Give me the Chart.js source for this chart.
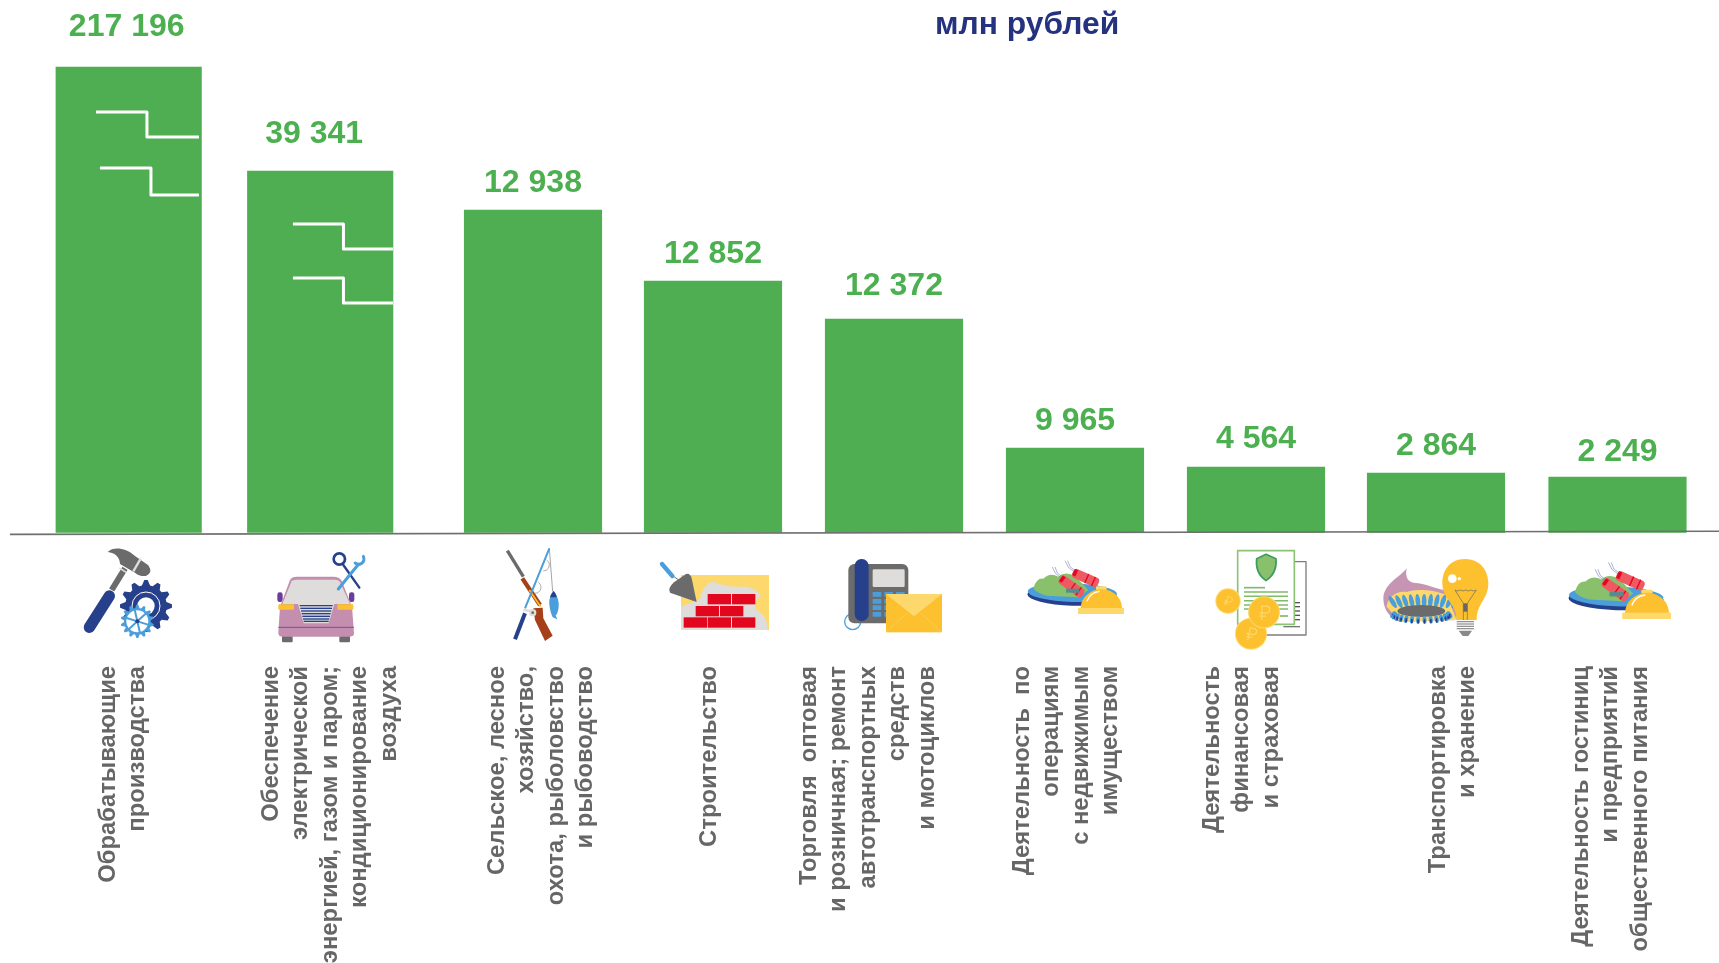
<!DOCTYPE html>
<html lang="ru">
<head>
<meta charset="utf-8">
<title>млн рублей</title>
<script src="https://cdn.jsdelivr.net/npm/chart.js@4/dist/chart.umd.min.js"></script>
<style>html,body{margin:0;padding:0;background:#fff;overflow:hidden}canvas{display:block}</style>
</head>
<body>
<canvas id="c" width="1719" height="963"></canvas>
<script>
// ---------- data ----------
const categories = [
  ["Обрабатывающие","производства"],
  ["Обеспечение","электрической","энергией, газом и паром;","кондиционирование","воздуха"],
  ["Сельское, лесное","хозяйство,","охота, рыболовство","и рыбоводство"],
  ["Строительство"],
  ["Торговля  оптовая","и розничная; ремонт","автотранспортных","средств","и мотоциклов"],
  ["Деятельность  по","операциям","с недвижимым","имуществом"],
  ["Деятельность","финансовая","и страховая"],
  ["Транспортировка","и хранение"],
  ["Деятельность гостиниц","и предприятий","общественного питания"]
];
const values = [217196, 39341, 12938, 12852, 12372, 9965, 4564, 2864, 2249];
const unitTitle = "млн рублей";

// ---------- the axis of the picture is broken: value -> drawn height of the axis (share) ----------
const axisKnotValues  = [0, 2249, 2864, 4564, 9965, 12372, 12852, 12938, 39341, 217196];
const axisKnotHeights = [0, 55.5, 59.5, 65.5, 84.5, 213.5, 251.5, 322.5, 361.5, 465.5];

// ---------- layout of the picture ----------
const barCenters   = [128.7, 320.2, 533, 713, 894, 1075, 1256, 1436, 1617.5];
const barWidths    = [145.5, 145.5, 137.5, 137.5, 137.5, 137.5, 137.5, 137.5, 137.5];
const labelFirstX  = [108, 271, 497, 709, 809, 1022, 1212, 1438, 1581];
const valueDx      = [-2, -6, 0, 0, 0, 0, 0, 0, 0];
const valueDy      = [40, 37, 27, 27, 33, 27, 27.5, 27, 25];
const GREEN = "#4fae51", LABEL_GREEN = "#4caf50", GREY = "#666666", NAVY = "#27408b",
      SKY = "#4a9edb", AMBER = "#fdc02f", PALE = "#fdd96d", LIGHT = "#dedddc", IRON = "#6b6b6b",
      LEAF = "#89c06c", RED = "#e2061f";

class BrokenAxis extends Chart.LinearScale {
  getPixelForValue(v) {
    const xs = axisKnotValues, hs = axisKnotHeights;
    let i = 0;
    while (i < xs.length - 2 && v > xs[i + 1]) i++;
    const t = (v - xs[i]) / (xs[i + 1] - xs[i]);
    const h = hs[i] + t * (hs[i + 1] - hs[i]);
    return this.bottom - h * (this.bottom - this.top) / hs[hs.length - 1];
  }
}
BrokenAxis.id = "brokenAxis";
BrokenAxis.defaults = Chart.LinearScale.defaults;

class PlacedCategoryAxis extends Chart.CategoryScale {
  getPixelForValue(v) { return barCenters[typeof v === "number" ? v : this.parse(v)]; }
  getPixelForTick(i) { return labelFirstX[i]; }
}
PlacedCategoryAxis.id = "placedCategory";
PlacedCategoryAxis.defaults = Chart.CategoryScale.defaults;
Chart.register(BrokenAxis, PlacedCategoryAxis);

// ---------- small drawing helpers for the pictograms ----------
function ln(g, pts, color, w, cap) {
  g.beginPath(); pts.forEach((p, i) => i ? g.lineTo(p[0], p[1]) : g.moveTo(p[0], p[1]));
  g.strokeStyle = color; g.lineWidth = w; g.lineCap = cap || "butt"; g.lineJoin = "round"; g.stroke();
}
function fillP(g, d, color) { g.fillStyle = color; g.fill(new Path2D(d)); }
function rr(g, x0, y0, x1, y1, r, color) { g.beginPath(); g.roundRect(x0, y0, x1 - x0, y1 - y0, r); g.fillStyle = color; g.fill(); }
function circ(g, x, y, r, color) { g.beginPath(); g.arc(x, y, r, 0, 7); g.fillStyle = color; g.fill(); }
function gear(g, x, y, r, teeth, color) {
  g.beginPath();
  const n = teeth * 4, inner = r * 0.8;
  for (let i = 0; i < n; i++) {
    const a = (i + 0.5) / n * Math.PI * 2 - Math.PI / 2;
    const R = (i % 4 === 0 || i % 4 === 3) ? r : inner;
    g.lineTo(x + R * Math.cos(a), y + R * Math.sin(a));
  }
  g.closePath(); g.fillStyle = color; g.fill();
}
function petal(g, x, y, rx, ry, rot, color) { g.beginPath(); g.ellipse(x, y, rx, ry, rot, 0, 7); g.fillStyle = color; g.fill(); }
function group(g, ox, oy, k, fn) { g.save(); g.translate(ox, oy); g.scale(k, k); fn(g); g.restore(); }

function drawTools(g) {
  ln(g, [[125,150],[165,85]], IRON, 18);
  ln(g, [[58,262],[118,168]], NAVY, 34, "round");
  fillP(g, "M113,36 C130,20 165,22 195,48 L235,76 Q250,98 228,108 Q208,110 195,98 L150,72 C150,52 135,38 113,36Z", IRON);
  ln(g, [[212,56],[190,94]], LIGHT, 7);
  ln(g, [[148,84],[170,98]], LIGHT, 5);
  gear(g, 228, 198, 78, 12, NAVY);
  g.beginPath(); g.arc(228, 198, 42, 0, 7); g.strokeStyle = "#fff"; g.lineWidth = 3; g.stroke();
  circ(g, 228, 198, 26, "#fff");
  gear(g, 202, 244, 50, 14, SKY);
  circ(g, 202, 244, 33, "#fff");
  for (let i = 0; i < 6; i++) { const a = i * Math.PI / 3 + .3; ln(g, [[202,244],[202 + 36*Math.cos(a), 244 + 36*Math.sin(a)]], SKY, 6); }
  circ(g, 202, 244, 6, NAVY);
}
function drawCar(g) {
  rr(g, 622, 157, 638, 186, 7, "#6a3d9a"); rr(g, 837, 157, 853, 186, 7, "#6a3d9a");
  rr(g, 636, 285, 668, 307, 3, IRON); rr(g, 808, 285, 840, 307, 3, IRON);
  fillP(g, "M630,200 L660,120 Q665,110 680,110 L790,110 Q808,110 815,122 L846,200 L852,280 Q852,290 840,290 L638,290 Q625,290 625,278Z", "#c48fae");
  fillP(g, "M637,192 L665,124 Q668,119 680,119 L795,119 Q805,119 810,126 L840,192Z", LIGHT);
  rr(g, 625, 193, 672, 209, 3, AMBER); rr(g, 802, 193, 850, 209, 3, AMBER);
  fillP(g, "M684,192 L793,192 L776,250 L701,250Z", LIGHT);
  [197,205,213,221,229,237,244].forEach((y, i) => ln(g, [[689 + i*2, y],[788 - i*2, y]], NAVY, 4));
  ln(g, [[625,262],[852,262]], "#6a3d9a", 2.5);
  g.beginPath(); g.arc(808, 57, 17, 0, 7); g.strokeStyle = NAVY; g.lineWidth = 8; g.stroke();
  ln(g, [[820,75],[868,143]], NAVY, 7, "round");
  ln(g, [[805,147],[866,72]], SKY, 9, "round");
  g.beginPath(); g.arc(866, 57, 16, -0.5, 2.3); g.strokeStyle = SKY; g.lineWidth = 9; g.stroke();
}
function drawFishing(g) {
  ln(g, [[52,32],[100,110]], IRON, 10);
  ln(g, [[97,115],[150,195]], "#a5401a", 13);
  ln(g, [[118,150],[152,200]], AMBER, 5);
  fillP(g, "M130,205 L158,203 L160,235 L188,287 L165,303 L135,240Z", "#a5401a");
  ln(g, [[178,25],[188,155]], "#777", 2);
  ln(g, [[178,25],[105,205]], SKY, 6);
  ln(g, [[105,220],[75,298]], NAVY, 12);
  ln(g, [[100,210],[135,215]], LIGHT, 7);
  circ(g, 128, 218, 11, LIGHT); circ(g, 128, 218, 4, IRON);
  g.beginPath(); g.arc(135, 142, 18, -1, 1.6); g.strokeStyle = "#888"; g.lineWidth = 2; g.stroke();
  g.beginPath(); g.arc(160, 75, 18, -1, 1.6); g.strokeStyle = "#888"; g.lineWidth = 2; g.stroke();
  fillP(g, "M191,153 Q208,175 206,200 Q204,220 197,226 L202,238 L188,232 Q176,205 178,180 Q180,165 191,153Z", SKY);
  fillP(g, "M191,153 Q198,160 200,172 L180,172 Q182,162 191,153Z", NAVY);
}
function drawBricks(g) {
  g.fillStyle = PALE; g.fillRect(573, 105, 264, 165);
  fillP(g, "M573,270 L573,200 L630,178 Q640,130 670,125 Q705,140 740,140 Q790,135 812,165 Q785,195 800,210 Q835,230 832,270Z", LIGHT);
  g.fillStyle = RED;
  [[653,162],[726,162],[617,198],[690,198],[581,232],[653,232],[726,232]].forEach(b => g.fillRect(b[0], b[1], 70, 31));
  ln(g, [[545,105],[580,130]], IRON, 3);
  ln(g, [[516,72],[547,108]], SKY, 13, "round");
  fillP(g, "M540,158 Q532,145 552,127 L588,102 Q600,98 605,115 L620,186Z", IRON);
}
function drawPhone(g) {
  g.beginPath(); g.arc(68, 245, 24, 0, 7); g.strokeStyle = SKY; g.lineWidth = 4; g.stroke();
  rr(g, 55, 72, 235, 250, 18, IRON);
  rr(g, 74, 57, 116, 243, 20, NAVY);
  rr(g, 128, 88, 224, 141, 4, LIGHT);
  [156,177,196,216].forEach(y => [128,163,198].forEach(x => rr(g, x, y, x + 26, y + 14, 1, SKY)));
  g.fillStyle = AMBER; g.fillRect(168, 162, 168, 115);
  fillP(g, "M168,162 L336,162 L252,229Z", PALE);
  ln(g, [[168,276],[230,220]], PALE, 1.5); ln(g, [[336,276],[272,220]], PALE, 1.5);
}
function drawFood(g) {
  petal(g, 727, 167, 135, 30, 0.03, NAVY);
  petal(g, 727, 158, 134, 28, 0.03, SKY);
  fillP(g, "M610,145 Q620,112 640,116 Q660,96 685,110 Q705,92 735,108 L775,150 L745,172 L650,167 Q620,160 610,145Z", LEAF);
  [[733,96,0.42],[695,115,0.62]].forEach(s => {
    g.save(); g.translate(s[0], s[1]); g.rotate(s[2]);
    rr(g, -4, -12, 80, 17, 10, "#ef5a62");
    g.fillStyle = RED; g.fillRect(40, -12, 4, 29); g.fillRect(62, -12, 4, 29); g.fillRect(-2, -9, 10, 20);
    g.restore();
    ln(g, [[s[0]-2, s[1]-2],[s[0]-18, s[1]-14],[s[0]-28, s[1]-34]], "#5a6fb0", 1.5);
    ln(g, [[s[0], s[1]-6],[s[0]-13, s[1]-16],[s[0]-20, s[1]-34]], "#5a6fb0", 1.5);
  });
  g.fillStyle = "#4f8f8f"; g.fillRect(708, 146, 40, 12);
  rr(g, 798, 139, 830, 150, 3, PALE);
  fillP(g, "M752,206 C752,170 785,148 814,148 C845,148 876,170 876,206Z", AMBER);
  g.beginPath(); g.arc(814, 200, 46, 3.5, 4.6); g.strokeStyle = "#fff"; g.lineWidth = 4; g.stroke();
  g.fillStyle = PALE; g.fillRect(744, 204, 138, 18);
}
function rubleMark(g, x, y, s, rot) {
  g.save(); g.translate(x, y); g.rotate(rot); g.scale(s, s);
  const c = PALE;
  ln(g, [[-6,22],[-6,-18],[6,-18]], c, 3.5);
  g.beginPath(); g.arc(6, -8, 10, -Math.PI/2, Math.PI/2); g.strokeStyle = c; g.lineWidth = 3.5; g.stroke();
  ln(g, [[-14,2],[6,2]], c, 3.5); ln(g, [[-14,11],[6,11]], c, 3.5);
  g.restore();
}
function drawCoins(g) {
  g.strokeStyle = "#7d7d7d"; g.lineWidth = 4; g.fillStyle = "#fff"; g.fillRect(190,65,128,220); g.strokeRect(190, 65, 128, 220);
  [188,200,213,226,239].forEach(y => ln(g, [[280,y],[300,y]], "#555", 4));
  ln(g, [[250,260],[300,260]], "#777", 4);
  g.fillStyle = "#fff"; g.fillRect(113, 32, 170, 221);
  g.strokeStyle = "#8cc474"; g.lineWidth = 5; g.strokeRect(113, 32, 170, 221);
  const sh = new Path2D("M198,43 L228,56 Q232,100 198,122 Q165,100 170,56Z");
  g.fillStyle = LEAF; g.fill(sh); g.strokeStyle = "#3f9b5d"; g.lineWidth = 5; g.stroke(sh);
  ln(g, [[132,143],[195,143]], "#7fbb68", 5);
  [156,169,182,195,207].forEach(y => ln(g, [[132,y],[264,y]], "#7fbb68", 4.5));
  ln(g, [[240,228],[264,228]], "#7fbb68", 5);
  [[84,183,38,.72,.35],[153,281,48,.95,.2],[192,217,48,1.05,0]].forEach(c => {
    circ(g, c[0], c[1], c[2], PALE); circ(g, c[0], c[1], c[2] - 3, AMBER); rubleMark(g, c[0], c[1], c[3], c[4]);
  });
}
function drawEnergy(g) {
  fillP(g, "M620,85 C600,112 552,130 550,175 C550,210 570,235 600,245 L770,240 L770,150 C720,158 690,130 640,128 C622,125 615,108 620,85Z", "#c695b3");
  fillP(g, "M560,200 C562,172 590,150 620,156 C640,148 690,146 740,165 L770,240 L600,245Z", PALE);
  for (let i = 0; i < 11; i++) {
    const x = 600 + i * 14.5 , t = (i - 5) / 5;
    petal(g, x + t * 22, 186 - (1 - t*t) * 3, 7, 21, t * 0.55, SKY);
  }
  petal(g, 664, 213, 72, 18, 0, IRON);
  for (let i = 0; i < 14; i++) {
    const a = Math.PI * (0.97 - i * 0.94 / 13), x = 664 + 85 * Math.cos(a), y = 222 + 18 * Math.sin(a);
    petal(g, x, y, 6, 12, (i - 6.5) * -0.1, SKY); petal(g, x, y + 4, 3, 7, 0, NAVY);
  }
  fillP(g, "M795,57 C848,57 865,100 865,130 C865,178 830,190 830,240 L770,240 C770,190 727,178 727,130 C727,90 750,57 795,57Z", AMBER);
  circ(g, 757, 116, 13, "#fff"); circ(g, 778, 116, 5, "#fff");
  ln(g, [[765,150],[773,153],[781,150],[789,153],[797,150],[805,153],[813,150],[821,153],[829,150]], "#666", 2);
  ln(g, [[765,150],[790,190],[790,240]], "#666", 2); ln(g, [[829,150],[802,190],[802,240]], "#666", 2);
  g.fillStyle = "#666"; g.fillRect(790, 190, 12, 25);
  rr(g, 770, 240, 822, 272, 2, "#fff");
  [245,252,259,266].forEach(y => ln(g, [[770,y],[822,y]], "#888", 3.5));
  fillP(g, "M776,272 L816,272 L805,288 L788,288Z", "#888");
}

const picturePlugin = {
  id: "picture",
  afterDatasetsUpdate(chart) {
    chart.getDatasetMeta(0).data.forEach((bar, i) => { bar.width = barWidths[i]; });
  },
  afterDatasetsDraw(chart) {
    const g = chart.ctx, bars = chart.getDatasetMeta(0).data;
    g.save();
    // baseline
    ln(g, [[10, 534.4],[1719, 531.2]], "#6f6f6f", 1.6);
    // axis-break steps on the two tall bars
    const step = (i, y0, y1, left, mid, end) => {
      const r = bars[i].x + barWidths[i] / 2;
      ln(g, [[r - left, y0],[r - mid, y0],[r - mid, y1],[r - end, y1]], "#ffffff", 3);
    };
    step(0, bars[0].y + 45, bars[0].y + 70, 105.5, 54.5, 2.5);
    step(0, bars[0].y + 101, bars[0].y + 128, 101.5, 50.5, 2.5);
    step(1, bars[1].y + 53, bars[1].y + 78, 100, 49.5, 0);
    step(1, bars[1].y + 107, bars[1].y + 132, 100, 49.5, 0);
    // value labels
    g.font = "bold 32px 'Liberation Sans', Arial, sans-serif";
    g.textAlign = "center"; g.textBaseline = "middle"; g.fillStyle = LABEL_GREEN;
    values.forEach((v, i) => {
      const t = String(v).replace(/\B(?=(\d{3})+$)/g, "\u00a0");
      g.fillText(t, bars[i].x + valueDx[i], bars[i].y - valueDy[i]);
    });
    // unit
    g.font = "bold 31.8px 'Liberation Sans', Arial, sans-serif";
    g.fillStyle = "#25327f";
    g.textAlign = "left";
    g.fillText(unitTitle, 935, 25.5);
    // pictograms
    const k = 1 / 3;
    group(g, 70, 540, k, drawTools);
    group(g, 70, 540, k, drawCar);
    group(g, 490, 540, k, drawFishing);
    group(g, 490, 540, k, drawBricks);
    group(g, 830, 540, k, drawPhone);
    group(g, 830, 540, k, drawFood);
    group(g, 1200, 540, k, drawCoins);
    group(g, 1200, 540, k, drawEnergy);
    const k2 = 1.06 / 3;
    group(g, 1671 - 882 * k2, 619 - 222 * k2, k2, drawFood);
    g.restore();
  }
};

new Chart(document.getElementById("c"), {
  type: "bar",
  data: {
    labels: categories,
    datasets: [{ label: unitTitle, data: values, backgroundColor: GREEN, borderWidth: 0, barThickness: 138, clip: false }]
  },
  options: {
    responsive: false,
    animation: false,
    layout: { padding: { top: 67, left: 0, right: 0, bottom: 0 } },
    plugins: { legend: { display: false }, title: { display: false }, tooltip: { enabled: false } },
    scales: {
      x: {
        type: "placedCategory",
        grid: { display: false, drawTicks: false },
        border: { display: false },
        afterFit(s) { s.height = 430.5; },
        ticks: {
          autoSkip: false, minRotation: 90, maxRotation: 90, padding: 133.5,
          color: GREY,
          font: { family: "'Liberation Sans', Arial, sans-serif", weight: "bold", size: 23.8, lineHeight: "29.6px" }
        }
      },
      y: { type: "brokenAxis", display: false, min: 0, max: 217196 }
    }
  },
  plugins: [picturePlugin]
});
</script>
</body>
</html>
